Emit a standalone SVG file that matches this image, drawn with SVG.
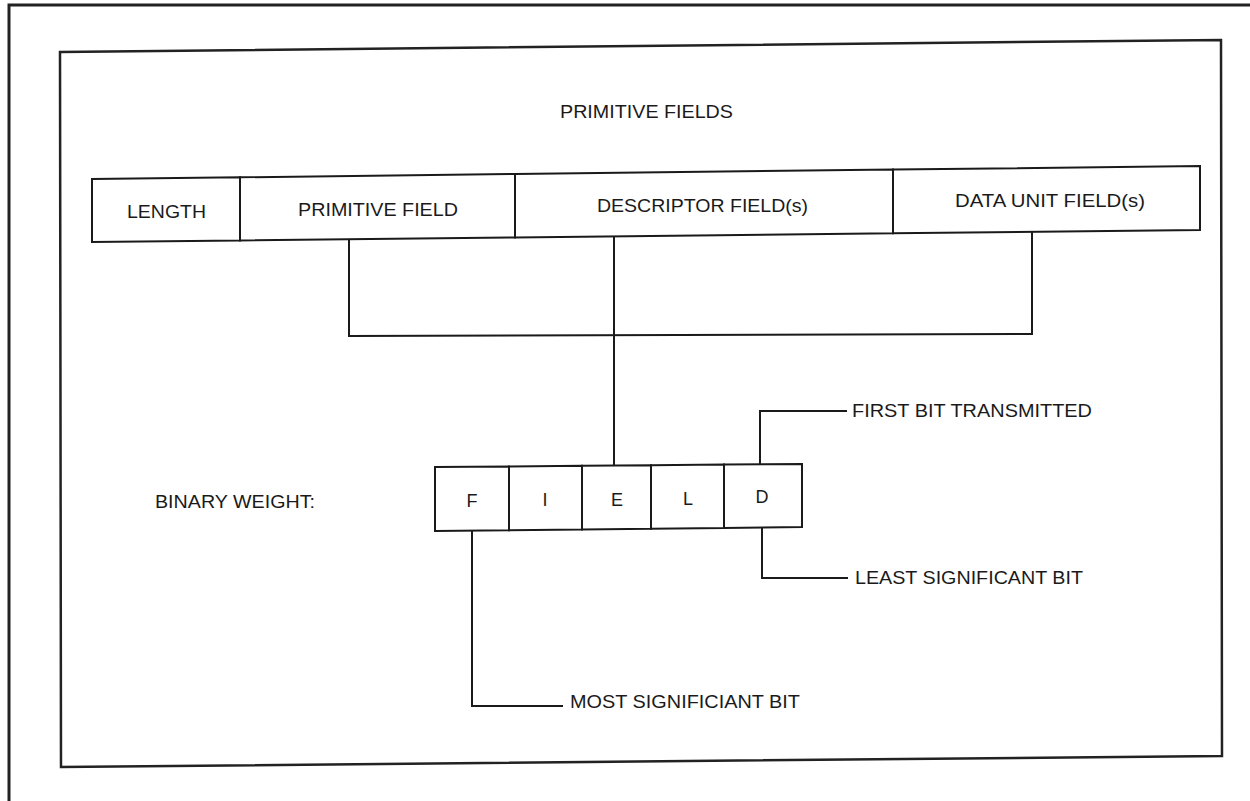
<svg xmlns="http://www.w3.org/2000/svg" width="1250" height="801" viewBox="0 0 1250 801">
<style>
.ln{fill:none;stroke:#1a1a1a;stroke-width:2;stroke-linejoin:miter}
.bd{fill:none;stroke:#222;stroke-width:3}
.t{font-family:"Liberation Sans",Arial,sans-serif;font-size:18px;fill:#1a1a1a}
.c{text-anchor:middle}
</style>
<rect width="1250" height="801" fill="#fff"/>
<g id="frame">
<path class="bd" d="M9,801 V5 H1250"/>
<path class="bd" style="stroke-width:2.5" d="M60,52 L1221,40 L1222,756 L61,767 Z"/>
</g>
<g id="title"><text class="t" x="560" y="118" textLength="173" lengthAdjust="spacingAndGlyphs">PRIMITIVE FIELDS</text></g>
<g id="length">
<path class="ln" d="M92,179 L240,177.3 L240,240.4 L92,242 Z"/>
<text class="t" x="127" y="218" textLength="79" lengthAdjust="spacingAndGlyphs">LENGTH</text>
</g>
<g id="primitive-field">
<path class="ln" d="M240,177.3 L515,174 L515,237.4 L240,240.4 Z"/>
<text class="t" x="298" y="216" textLength="160" lengthAdjust="spacingAndGlyphs">PRIMITIVE FIELD</text>
</g>
<g id="descriptor-field">
<path class="ln" d="M515,174 L893,169.6 L893,233.3 L515,237.4 Z"/>
<text class="t" x="597" y="212" textLength="211" lengthAdjust="spacingAndGlyphs">DESCRIPTOR FIELD(s)</text>
</g>
<g id="data-unit-field">
<path class="ln" d="M893,169.6 L1200,166 L1200,230 L893,233.3 Z"/>
<text class="t" x="955" y="207" textLength="190" lengthAdjust="spacingAndGlyphs">DATA UNIT FIELD(s)</text>
</g>
<g id="binary-weight"><text class="t" x="155" y="508" textLength="160" lengthAdjust="spacingAndGlyphs">BINARY WEIGHT:</text></g>
<g id="bit-F"><path class="ln" d="M435,467 L509,466.4 L509,530.3 L435,531 Z"/><text class="t c" x="472" y="507">F</text></g>
<g id="bit-I"><path class="ln" d="M509,466.4 L582,465.8 L582,529.5 L509,530.3 Z"/><text class="t c" x="545" y="506">I</text></g>
<g id="bit-E"><path class="ln" d="M582,465.8 L651,465.2 L651,528.8 L582,529.5 Z"/><text class="t c" x="617" y="506">E</text></g>
<g id="bit-L"><path class="ln" d="M651,465.2 L724,464.6 L724,528 L651,528.8 Z"/><text class="t c" x="688" y="505">L</text></g>
<g id="bit-D"><path class="ln" d="M724,464.6 L802,464 L802,527 L724,528 Z"/><text class="t c" x="762" y="503">D</text></g>
<g id="label-first"><text class="t" x="852" y="417" textLength="240" lengthAdjust="spacingAndGlyphs">FIRST BIT TRANSMITTED</text></g>
<g id="label-least"><text class="t" x="855" y="584" textLength="228" lengthAdjust="spacingAndGlyphs">LEAST SIGNIFICANT BIT</text></g>
<g id="label-most"><text class="t" x="570" y="708" textLength="230" lengthAdjust="spacingAndGlyphs">MOST SIGNIFICIANT BIT</text></g>
<g id="connectors">
<path class="ln" d="M349,239 V336 L1032,334 V231"/>
<path class="ln" d="M614,237 V465"/>
<path class="ln" d="M760,464 V411 H847"/>
<path class="ln" d="M762,527 V578 H848"/>
<path class="ln" d="M472,531 V706 H563"/>
</g>
</svg>
